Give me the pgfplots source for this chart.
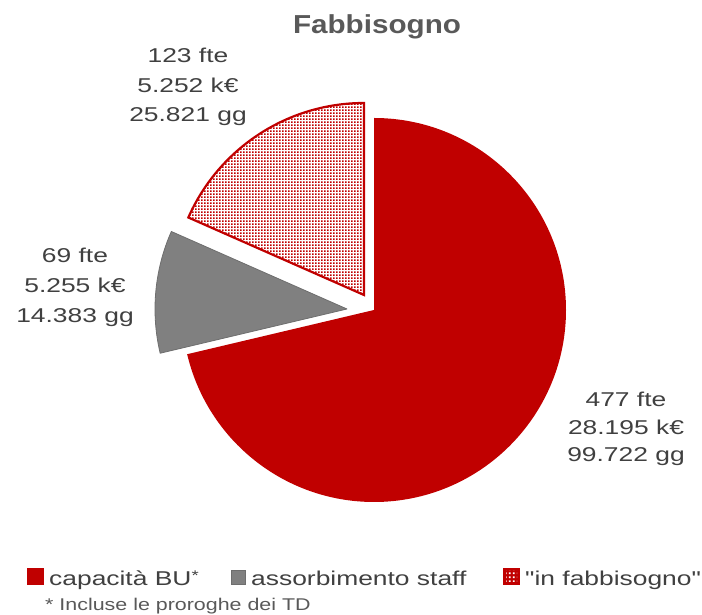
\documentclass[border=0pt]{standalone}
\usepackage{pgfplots}
\pgfplotsset{compat=1.18}
\usepackage{pgfplotstable}
\usepackage{fontspec}
\setmainfont{Liberation Sans}
\newfontfamily\lblfont{Liberation Sans}[FakeStretch=1.32]
\newfontfamily\ttlfont{Liberation Sans}[FakeStretch=1.14]
\newfontfamily\notefont{Liberation Sans}[FakeStretch=1.26]
\usetikzlibrary{patterns}
\definecolor{cRed}{HTML}{C00000}
\definecolor{cGray}{HTML}{808080}
\definecolor{cGrayEdge}{HTML}{6E6E6E}
\definecolor{cText}{HTML}{404040}
\definecolor{cTitle}{HTML}{595959}
\pgfdeclarepatternformonly{redgrid}{\pgfqpoint{0pt}{0pt}}{\pgfqpoint{3pt}{3pt}}{\pgfqpoint{3pt}{3pt}}{%
  \pgfpathrectangle{\pgfqpoint{0pt}{0pt}}{\pgfqpoint{2pt}{2pt}}\pgfusepath{fill}}
\pgfdeclarepatternformonly{holes}{\pgfqpoint{0pt}{0pt}}{\pgfqpoint{4pt}{4pt}}{\pgfqpoint{4pt}{4pt}}{%
  \pgfpathrectangle{\pgfqpoint{1pt}{1pt}}{\pgfqpoint{2pt}{2pt}}\pgfusepath{fill}}

% slice: value, centre of the (exploded) slice in picture units, radius
\pgfplotstableread{
name value cx cy r
capacita 477 374 305 192
staff 69 347 306 192
fabbisogno 123 364 320 192
}\piedata

\begin{document}
\begin{tikzpicture}
\pgfplotstablegetelem{0}{value}\of\piedata \let\va\pgfplotsretval
\pgfplotstablegetelem{1}{value}\of\piedata \let\vb\pgfplotsretval
\pgfplotstablegetelem{2}{value}\of\piedata \let\vc\pgfplotsretval
\pgfplotstablegetelem{0}{cx}\of\piedata \let\xa\pgfplotsretval
\pgfplotstablegetelem{0}{cy}\of\piedata \let\ya\pgfplotsretval
\pgfplotstablegetelem{1}{cx}\of\piedata \let\xb\pgfplotsretval
\pgfplotstablegetelem{1}{cy}\of\piedata \let\yb\pgfplotsretval
\pgfplotstablegetelem{2}{cx}\of\piedata \let\xc\pgfplotsretval
\pgfplotstablegetelem{2}{cy}\of\piedata \let\yc\pgfplotsretval
\pgfplotstablegetelem{0}{r}\of\piedata \let\rr\pgfplotsretval
\pgfmathsetmacro{\tot}{\va+\vb+\vc}
\pgfmathsetmacro{\fa}{\va/\tot}
\pgfmathsetmacro{\fb}{\vb/\tot}
\pgfmathsetmacro{\aA}{90-360*\fa}
\pgfmathsetmacro{\aB}{\aA-360*\fb}
\begin{axis}[hide axis, scale only axis, width=702pt, height=615pt,
  xmin=0, xmax=702, ymin=0, ymax=615, clip=false]
% slices
\fill[cRed] (axis cs:\xa,\ya) -- ++(90:\rr pt) arc[start angle=90, end angle=\aA, radius=\rr pt] -- cycle;
\filldraw[fill=cGray, draw=cGrayEdge, line width=0.8pt, line join=round] (axis cs:\xb,\yb) -- ++(\aA:\rr pt) arc[start angle=\aA, end angle=\aB, radius=\rr pt] -- cycle;
\draw[preaction={fill=white}, pattern=redgrid, pattern color=cRed, draw=cRed, line width=2.2pt, line join=miter]
  (axis cs:\xc,\yc) -- ++(\aB:\rr pt) arc[start angle=\aB, end angle=-270, radius=\rr pt] -- cycle;
% title
\node[anchor=base, text=cTitle, font=\ttlfont\bfseries\fontsize{26}{30}\selectfont] at (axis cs:377,581) {Fabbisogno};
% data labels
\begin{scope}[every node/.style={anchor=base, text=cText, font=\lblfont\fontsize{20}{24}\selectfont}]
\node at (axis cs:188,552) {123 fte};
\node at (axis cs:188,522) {5.252 k€};
\node at (axis cs:188,493) {25.821 gg};
\node at (axis cs:75,352) {69 fte};
\node at (axis cs:75,322) {5.255 k€};
\node at (axis cs:75,292) {14.383 gg};
\node at (axis cs:626,208) {477 fte};
\node at (axis cs:626,180) {28.195 k€};
\node at (axis cs:626,153) {99.722 gg};
\end{scope}
% legend
\fill[cRed] (axis cs:27,30) rectangle (axis cs:44,47);
\filldraw[fill=cGray, draw=cGrayEdge, line width=0.8pt] (axis cs:231,30.5) rectangle (axis cs:245,44.5);
\fill[cRed] (axis cs:503,30) rectangle (axis cs:520,47);
\fill[pattern=holes, pattern color=white] (axis cs:506,33) rectangle (axis cs:517,44);
\begin{scope}[every node/.style={anchor=base west, text=cText, font=\lblfont\fontsize{20}{24}\selectfont, inner sep=0pt}]
\node at (axis cs:49,29) {capacità BU\raisebox{0.55ex}{\fontsize{14}{14}\selectfont *}};
\node at (axis cs:251,29) {assorbimento staff};
\node at (axis cs:525,29) {"in fabbisogno"};
\end{scope}
\node[anchor=base west, inner sep=0pt, text=cTitle, font=\notefont\fontsize{17}{20}\selectfont] at (axis cs:45,4) {* Incluse le proroghe dei TD};
\end{axis}
\pgfresetboundingbox
\path (0,0) rectangle (702pt,615pt);
\end{tikzpicture}
\end{document}
